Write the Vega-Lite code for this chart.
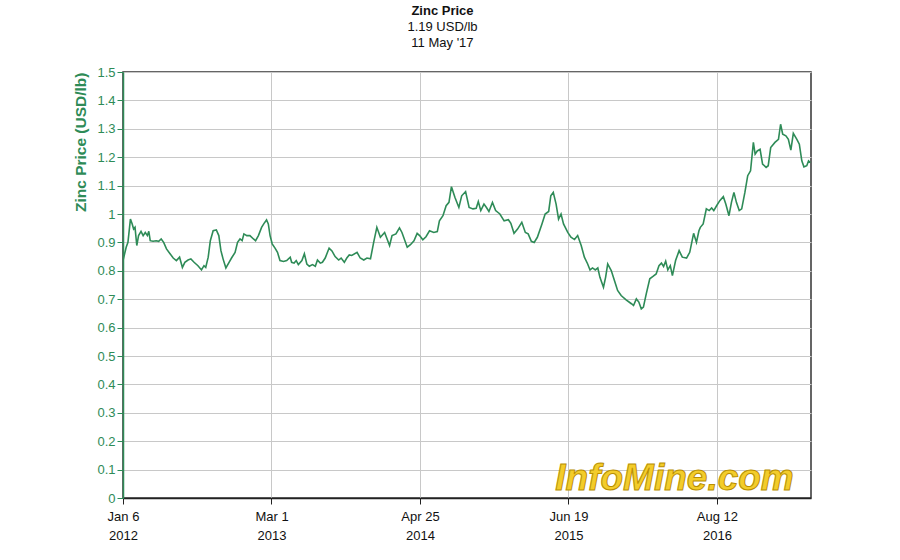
{
  "$schema": "https://vega.github.io/schema/vega-lite/v6.json",
  "width": 688,
  "height": 426,
  "autosize": {"type": "none"},
  "padding": {"left": 123, "top": 72, "right": 89, "bottom": 62},
  "background": "white",
  "config": {
    "font": "Liberation Sans",
    "view": {"stroke": "#333333", "strokeWidth": 1.5}
  },
  "title": {
    "text": "Zinc Price",
    "subtitle": ["1.19 USD/lb", "11 May '17"],
    "anchor": "middle",
    "frame": "bounds",
    "fontSize": 13,
    "fontWeight": "bold",
    "color": "#111111",
    "subtitleFontSize": 13,
    "subtitleColor": "#111111",
    "subtitleLineHeight": 16,
    "subtitlePadding": 3,
    "offset": 16
  },
  "data": {"values": [
    {"date": "2012-01-06", "price": 0.836},
    {"date": "2012-01-15", "price": 0.883},
    {"date": "2012-01-20", "price": 0.900},
    {"date": "2012-01-27", "price": 0.982},
    {"date": "2012-02-01", "price": 0.965},
    {"date": "2012-02-05", "price": 0.947},
    {"date": "2012-02-09", "price": 0.953},
    {"date": "2012-02-14", "price": 0.889},
    {"date": "2012-02-19", "price": 0.924},
    {"date": "2012-02-26", "price": 0.939},
    {"date": "2012-03-03", "price": 0.924},
    {"date": "2012-03-09", "price": 0.935},
    {"date": "2012-03-15", "price": 0.924},
    {"date": "2012-03-19", "price": 0.939},
    {"date": "2012-03-23", "price": 0.906},
    {"date": "2012-03-31", "price": 0.904},
    {"date": "2012-04-09", "price": 0.906},
    {"date": "2012-04-16", "price": 0.904},
    {"date": "2012-04-23", "price": 0.912},
    {"date": "2012-04-30", "price": 0.900},
    {"date": "2012-05-08", "price": 0.877},
    {"date": "2012-05-17", "price": 0.862},
    {"date": "2012-05-27", "price": 0.845},
    {"date": "2012-06-05", "price": 0.836},
    {"date": "2012-06-14", "price": 0.848},
    {"date": "2012-06-22", "price": 0.812},
    {"date": "2012-06-29", "price": 0.830},
    {"date": "2012-07-08", "price": 0.838},
    {"date": "2012-07-16", "price": 0.842},
    {"date": "2012-07-25", "price": 0.830},
    {"date": "2012-08-05", "price": 0.818},
    {"date": "2012-08-15", "price": 0.803},
    {"date": "2012-08-22", "price": 0.818},
    {"date": "2012-08-27", "price": 0.812},
    {"date": "2012-09-03", "price": 0.848},
    {"date": "2012-09-09", "price": 0.906},
    {"date": "2012-09-17", "price": 0.941},
    {"date": "2012-09-26", "price": 0.944},
    {"date": "2012-10-03", "price": 0.924},
    {"date": "2012-10-09", "price": 0.871},
    {"date": "2012-10-15", "price": 0.842},
    {"date": "2012-10-23", "price": 0.810},
    {"date": "2012-11-01", "price": 0.830},
    {"date": "2012-11-08", "price": 0.845},
    {"date": "2012-11-18", "price": 0.865},
    {"date": "2012-11-25", "price": 0.900},
    {"date": "2012-12-02", "price": 0.912},
    {"date": "2012-12-08", "price": 0.906},
    {"date": "2012-12-13", "price": 0.930},
    {"date": "2012-12-21", "price": 0.924},
    {"date": "2012-12-30", "price": 0.924},
    {"date": "2013-01-09", "price": 0.912},
    {"date": "2013-01-15", "price": 0.906},
    {"date": "2013-01-23", "price": 0.924},
    {"date": "2013-02-01", "price": 0.953},
    {"date": "2013-02-08", "price": 0.967},
    {"date": "2013-02-15", "price": 0.979},
    {"date": "2013-02-20", "price": 0.965},
    {"date": "2013-02-25", "price": 0.924},
    {"date": "2013-03-03", "price": 0.895},
    {"date": "2013-03-11", "price": 0.880},
    {"date": "2013-03-18", "price": 0.865},
    {"date": "2013-03-25", "price": 0.836},
    {"date": "2013-04-04", "price": 0.833},
    {"date": "2013-04-13", "price": 0.836},
    {"date": "2013-04-23", "price": 0.848},
    {"date": "2013-04-27", "price": 0.830},
    {"date": "2013-05-04", "price": 0.827},
    {"date": "2013-05-10", "price": 0.836},
    {"date": "2013-05-16", "price": 0.822},
    {"date": "2013-05-26", "price": 0.836},
    {"date": "2013-06-02", "price": 0.860},
    {"date": "2013-06-09", "price": 0.824},
    {"date": "2013-06-16", "price": 0.816},
    {"date": "2013-06-25", "price": 0.822},
    {"date": "2013-07-03", "price": 0.816},
    {"date": "2013-07-09", "price": 0.838},
    {"date": "2013-07-17", "price": 0.827},
    {"date": "2013-07-23", "price": 0.830},
    {"date": "2013-07-31", "price": 0.845},
    {"date": "2013-08-11", "price": 0.880},
    {"date": "2013-08-19", "price": 0.870},
    {"date": "2013-08-28", "price": 0.850},
    {"date": "2013-09-07", "price": 0.838},
    {"date": "2013-09-14", "price": 0.845},
    {"date": "2013-09-23", "price": 0.830},
    {"date": "2013-09-30", "price": 0.845},
    {"date": "2013-10-07", "price": 0.856},
    {"date": "2013-10-14", "price": 0.854},
    {"date": "2013-10-29", "price": 0.865},
    {"date": "2013-11-07", "price": 0.845},
    {"date": "2013-11-17", "price": 0.838},
    {"date": "2013-11-26", "price": 0.845},
    {"date": "2013-12-06", "price": 0.842},
    {"date": "2013-12-15", "price": 0.900},
    {"date": "2013-12-24", "price": 0.953},
    {"date": "2014-01-03", "price": 0.918},
    {"date": "2014-01-15", "price": 0.935},
    {"date": "2014-01-22", "price": 0.912},
    {"date": "2014-01-29", "price": 0.889},
    {"date": "2014-02-05", "price": 0.924},
    {"date": "2014-02-16", "price": 0.930},
    {"date": "2014-02-26", "price": 0.951},
    {"date": "2014-03-05", "price": 0.935},
    {"date": "2014-03-20", "price": 0.883},
    {"date": "2014-03-29", "price": 0.892},
    {"date": "2014-04-08", "price": 0.906},
    {"date": "2014-04-17", "price": 0.932},
    {"date": "2014-04-24", "price": 0.924},
    {"date": "2014-05-03", "price": 0.909},
    {"date": "2014-05-12", "price": 0.920},
    {"date": "2014-05-22", "price": 0.941},
    {"date": "2014-06-03", "price": 0.935},
    {"date": "2014-06-13", "price": 0.938},
    {"date": "2014-06-19", "price": 0.976},
    {"date": "2014-06-29", "price": 0.994},
    {"date": "2014-07-08", "price": 1.029},
    {"date": "2014-07-16", "price": 1.041},
    {"date": "2014-07-23", "price": 1.096},
    {"date": "2014-08-02", "price": 1.058},
    {"date": "2014-08-13", "price": 1.023},
    {"date": "2014-08-21", "price": 1.064},
    {"date": "2014-09-01", "price": 1.079},
    {"date": "2014-09-11", "price": 1.023},
    {"date": "2014-09-22", "price": 1.018},
    {"date": "2014-10-01", "price": 1.020},
    {"date": "2014-10-07", "price": 1.044},
    {"date": "2014-10-14", "price": 1.012},
    {"date": "2014-10-23", "price": 1.035},
    {"date": "2014-10-30", "price": 1.023},
    {"date": "2014-11-06", "price": 1.009},
    {"date": "2014-11-16", "price": 1.041},
    {"date": "2014-11-25", "price": 1.012},
    {"date": "2014-12-07", "price": 1.000},
    {"date": "2014-12-19", "price": 0.976},
    {"date": "2014-12-31", "price": 0.980},
    {"date": "2015-01-07", "price": 0.967},
    {"date": "2015-01-16", "price": 0.932},
    {"date": "2015-01-26", "price": 0.947},
    {"date": "2015-02-07", "price": 0.971},
    {"date": "2015-02-17", "price": 0.935},
    {"date": "2015-02-25", "price": 0.930},
    {"date": "2015-03-06", "price": 0.904},
    {"date": "2015-03-14", "price": 0.900},
    {"date": "2015-03-23", "price": 0.918},
    {"date": "2015-04-05", "price": 0.965},
    {"date": "2015-04-14", "price": 1.000},
    {"date": "2015-04-24", "price": 1.009},
    {"date": "2015-04-30", "price": 1.064},
    {"date": "2015-05-07", "price": 1.076},
    {"date": "2015-05-15", "price": 1.035},
    {"date": "2015-05-22", "price": 0.982},
    {"date": "2015-05-29", "price": 1.000},
    {"date": "2015-06-05", "price": 0.965},
    {"date": "2015-06-17", "price": 0.935},
    {"date": "2015-06-26", "price": 0.918},
    {"date": "2015-07-06", "price": 0.910},
    {"date": "2015-07-15", "price": 0.924},
    {"date": "2015-07-25", "price": 0.889},
    {"date": "2015-08-03", "price": 0.848},
    {"date": "2015-08-12", "price": 0.825},
    {"date": "2015-08-19", "price": 0.803},
    {"date": "2015-08-26", "price": 0.810},
    {"date": "2015-09-03", "price": 0.803},
    {"date": "2015-09-10", "price": 0.810},
    {"date": "2015-09-16", "price": 0.777},
    {"date": "2015-09-26", "price": 0.742},
    {"date": "2015-10-02", "price": 0.777},
    {"date": "2015-10-08", "price": 0.824},
    {"date": "2015-10-18", "price": 0.801},
    {"date": "2015-10-27", "price": 0.766},
    {"date": "2015-11-05", "price": 0.731},
    {"date": "2015-11-15", "price": 0.713},
    {"date": "2015-11-29", "price": 0.698},
    {"date": "2015-12-14", "price": 0.684},
    {"date": "2015-12-20", "price": 0.678},
    {"date": "2015-12-28", "price": 0.701},
    {"date": "2016-01-04", "price": 0.690},
    {"date": "2016-01-11", "price": 0.666},
    {"date": "2016-01-17", "price": 0.672},
    {"date": "2016-01-25", "price": 0.719},
    {"date": "2016-02-04", "price": 0.772},
    {"date": "2016-02-13", "price": 0.780},
    {"date": "2016-02-22", "price": 0.789},
    {"date": "2016-03-01", "price": 0.818},
    {"date": "2016-03-08", "price": 0.827},
    {"date": "2016-03-14", "price": 0.815},
    {"date": "2016-03-20", "price": 0.834},
    {"date": "2016-03-26", "price": 0.803},
    {"date": "2016-04-02", "price": 0.818},
    {"date": "2016-04-08", "price": 0.783},
    {"date": "2016-04-17", "price": 0.836},
    {"date": "2016-04-27", "price": 0.871},
    {"date": "2016-05-06", "price": 0.848},
    {"date": "2016-05-18", "price": 0.845},
    {"date": "2016-05-27", "price": 0.865},
    {"date": "2016-06-07", "price": 0.932},
    {"date": "2016-06-15", "price": 0.900},
    {"date": "2016-06-22", "price": 0.941},
    {"date": "2016-06-26", "price": 0.953},
    {"date": "2016-07-04", "price": 0.965},
    {"date": "2016-07-13", "price": 1.018},
    {"date": "2016-07-21", "price": 1.012},
    {"date": "2016-07-28", "price": 1.021},
    {"date": "2016-08-03", "price": 1.012},
    {"date": "2016-08-11", "price": 1.029},
    {"date": "2016-08-20", "price": 1.047},
    {"date": "2016-08-30", "price": 1.061},
    {"date": "2016-09-06", "price": 1.035},
    {"date": "2016-09-15", "price": 0.994},
    {"date": "2016-09-22", "price": 1.041},
    {"date": "2016-09-29", "price": 1.076},
    {"date": "2016-10-06", "price": 1.041},
    {"date": "2016-10-14", "price": 1.012},
    {"date": "2016-10-21", "price": 1.018},
    {"date": "2016-10-30", "price": 1.076},
    {"date": "2016-11-07", "price": 1.135},
    {"date": "2016-11-15", "price": 1.152},
    {"date": "2016-11-23", "price": 1.252},
    {"date": "2016-11-28", "price": 1.211},
    {"date": "2016-12-04", "price": 1.222},
    {"date": "2016-12-12", "price": 1.228},
    {"date": "2016-12-19", "price": 1.176},
    {"date": "2016-12-29", "price": 1.164},
    {"date": "2017-01-04", "price": 1.170},
    {"date": "2017-01-11", "price": 1.234},
    {"date": "2017-01-23", "price": 1.252},
    {"date": "2017-02-02", "price": 1.263},
    {"date": "2017-02-08", "price": 1.316},
    {"date": "2017-02-14", "price": 1.281},
    {"date": "2017-02-23", "price": 1.275},
    {"date": "2017-03-02", "price": 1.263},
    {"date": "2017-03-09", "price": 1.225},
    {"date": "2017-03-16", "price": 1.284},
    {"date": "2017-03-26", "price": 1.263},
    {"date": "2017-04-02", "price": 1.246},
    {"date": "2017-04-09", "price": 1.187},
    {"date": "2017-04-15", "price": 1.166},
    {"date": "2017-04-23", "price": 1.170},
    {"date": "2017-04-28", "price": 1.187},
    {"date": "2017-05-03", "price": 1.181}
  ]},
  "layer": [
    {
      "mark": {"type": "line", "color": "#2e8b57", "strokeWidth": 1.6, "clip": true},
      "encoding": {
        "x": {
          "field": "date",
          "type": "temporal",
          "scale": {"domain": [{"year": 2012, "month": 1, "date": 6}, {"year": 2017, "month": 5, "date": 5}]},
          "axis": {
            "title": null,
            "values": [
              {"year": 2012, "month": 1, "date": 6},
              {"year": 2013, "month": 3, "date": 1},
              {"year": 2014, "month": 4, "date": 25},
              {"year": 2015, "month": 6, "date": 19},
              {"year": 2016, "month": 8, "date": 12}
            ],
            "labelExpr": "[timeFormat(datum.value, '%b %-d'), timeFormat(datum.value, '%Y')]",
            "labelFontSize": 13,
            "labelColor": "#111111",
            "labelLineHeight": 19,
            "labelPadding": 6,
            "labelFlush": false,
            "labelOverlap": false,
            "domainColor": "#222222",
            "domainWidth": 1.5,
            "tickColor": "#222222",
            "tickSize": 6,
            "grid": true,
            "gridColor": "#c8c8c8",
            "gridWidth": 1
          }
        },
        "y": {
          "field": "price",
          "type": "quantitative",
          "scale": {"domain": [0, 1.5], "nice": false, "zero": true},
          "axis": {
            "title": "Zinc Price (USD/lb)",
            "titleColor": "#2e8b57",
            "titleFontSize": 15.5,
            "titleFontWeight": "bold",
            "titleAnchor": "end",
            "titlePadding": 8,
            "values": [0, 0.1, 0.2, 0.3, 0.4, 0.5, 0.6, 0.7, 0.8, 0.9, 1, 1.1, 1.2, 1.3, 1.4, 1.5],
            "labelOverlap": false,
            "format": ".1~f",
            "labelFontSize": 13,
            "labelColor": "#2e8b57",
            "labelPadding": 2,
            "domainColor": "#2e8b57",
            "domainWidth": 1.5,
            "tickColor": "#2e8b57",
            "tickSize": 6,
            "grid": true,
            "gridColor": "#c8c8c8",
            "gridWidth": 1
          }
        }
      }
    },
    {
      "data": {"values": [{"label": "InfoMine.com"}]},
      "mark": {"type": "text", "font": "Liberation Sans", "fontSize": 37, "fontWeight": "bold", "fontStyle": "italic", "color": "#f3cc2a", "stroke": "#b98f00", "strokeWidth": 1, "align": "center", "baseline": "middle"},
      "encoding": {
        "x": {
          "datum": {"year": 2016, "month": 4, "date": 14},
          "type": "temporal",
          "axis": {
            "title": null,
            "values": [
              {"year": 2012, "month": 1, "date": 6},
              {"year": 2013, "month": 3, "date": 1},
              {"year": 2014, "month": 4, "date": 25},
              {"year": 2015, "month": 6, "date": 19},
              {"year": 2016, "month": 8, "date": 12}
            ],
            "labelExpr": "[timeFormat(datum.value, '%b %-d'), timeFormat(datum.value, '%Y')]",
            "labelFontSize": 13,
            "labelColor": "#111111",
            "labelLineHeight": 19,
            "labelPadding": 6,
            "labelFlush": false,
            "labelOverlap": false,
            "domainColor": "#222222",
            "domainWidth": 1.5,
            "tickColor": "#222222",
            "tickSize": 6,
            "grid": true,
            "gridColor": "#c8c8c8",
            "gridWidth": 1
          }
        },
        "y": {
          "datum": 0.066,
          "type": "quantitative",
          "axis": {
            "title": "Zinc Price (USD/lb)",
            "titleColor": "#2e8b57",
            "titleFontSize": 15.5,
            "titleFontWeight": "bold",
            "titleAnchor": "end",
            "titlePadding": 8,
            "values": [0, 0.1, 0.2, 0.3, 0.4, 0.5, 0.6, 0.7, 0.8, 0.9, 1, 1.1, 1.2, 1.3, 1.4, 1.5],
            "labelOverlap": false,
            "format": ".1~f",
            "labelFontSize": 13,
            "labelColor": "#2e8b57",
            "labelPadding": 2,
            "domainColor": "#2e8b57",
            "domainWidth": 1.5,
            "tickColor": "#2e8b57",
            "tickSize": 6,
            "grid": true,
            "gridColor": "#c8c8c8",
            "gridWidth": 1
          }
        },
        "text": {"field": "label"}
      }
    }
  ]
}
